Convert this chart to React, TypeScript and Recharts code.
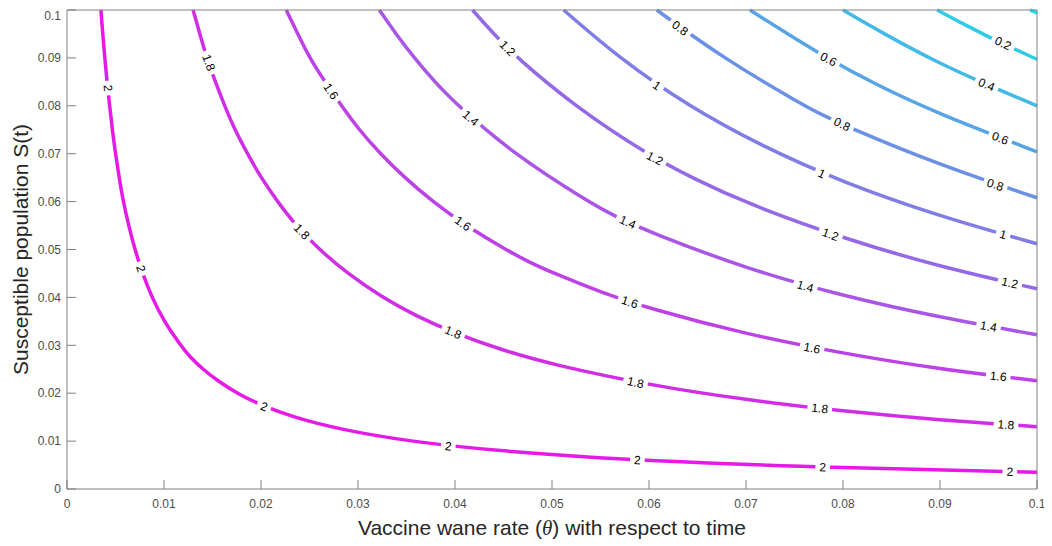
import { ComposedChart, Line, Scatter, XAxis, YAxis } from "recharts";

// contour levels, magenta (2) to cyan (0)
const levels = [2, 1.8, 1.6, 1.4, 1.2, 1, 0.8, 0.6, 0.4, 0.2, 0];

// points (theta, S)
const c20 = [
  { x: 0.0035, y: 0.1 }, { x: 0.00368, y: 0.095 }, { x: 0.0039, y: 0.09 }, { x: 0.00412, y: 0.085 },
  { x: 0.0044, y: 0.08 }, { x: 0.00467, y: 0.075 }, { x: 0.005, y: 0.07 }, { x: 0.00538, y: 0.065 },
  { x: 0.0058, y: 0.06 }, { x: 0.00636, y: 0.055 }, { x: 0.007, y: 0.05 }, { x: 0.00778, y: 0.045 },
  { x: 0.00875, y: 0.04 }, { x: 0.01, y: 0.035 }, { x: 0.0117, y: 0.03 }, { x: 0.0127, y: 0.0275 },
  { x: 0.014, y: 0.025 }, { x: 0.0156, y: 0.0225 }, { x: 0.0175, y: 0.02 }, { x: 0.02, y: 0.0175 },
  { x: 0.0233, y: 0.015 }, { x: 0.028, y: 0.0125 }, { x: 0.035, y: 0.01 }, { x: 0.045, y: 0.0078 },
  { x: 0.06, y: 0.0058 }, { x: 0.08, y: 0.0044 }, { x: 0.1, y: 0.0035 },
];
const c18 = [
  { x: 0.013, y: 0.1 }, { x: 0.0137, y: 0.095 }, { x: 0.0144, y: 0.09 }, { x: 0.0153, y: 0.085 },
  { x: 0.01625, y: 0.08 }, { x: 0.0173, y: 0.075 }, { x: 0.0186, y: 0.07 }, { x: 0.02, y: 0.065 },
  { x: 0.0217, y: 0.06 }, { x: 0.0236, y: 0.055 }, { x: 0.026, y: 0.05 }, { x: 0.0289, y: 0.045 },
  { x: 0.0325, y: 0.04 }, { x: 0.036, y: 0.0361 }, { x: 0.04, y: 0.0325 }, { x: 0.045, y: 0.0289 },
  { x: 0.05, y: 0.026 }, { x: 0.06, y: 0.0217 }, { x: 0.07, y: 0.0186 }, { x: 0.08, y: 0.01625 },
  { x: 0.09, y: 0.0144 }, { x: 0.1, y: 0.013 },
];
const c16 = [
  { x: 0.0226, y: 0.1 }, { x: 0.0238, y: 0.095 }, { x: 0.025, y: 0.09 }, { x: 0.0266, y: 0.085 },
  { x: 0.0283, y: 0.08 }, { x: 0.0301, y: 0.075 }, { x: 0.0323, y: 0.07 }, { x: 0.0348, y: 0.065 },
  { x: 0.0377, y: 0.06 }, { x: 0.0411, y: 0.055 }, { x: 0.0452, y: 0.05 }, { x: 0.0475, y: 0.0475 },
  { x: 0.05, y: 0.0452 }, { x: 0.055, y: 0.0411 }, { x: 0.06, y: 0.0377 }, { x: 0.07, y: 0.0323 },
  { x: 0.08, y: 0.0283 }, { x: 0.09, y: 0.025 }, { x: 0.1, y: 0.0226 },
];
const c14 = [
  { x: 0.0322, y: 0.1 }, { x: 0.0339, y: 0.095 }, { x: 0.0358, y: 0.09 }, { x: 0.0379, y: 0.085 },
  { x: 0.0403, y: 0.08 }, { x: 0.046, y: 0.07 }, { x: 0.0537, y: 0.06 }, { x: 0.0567, y: 0.0567 },
  { x: 0.06, y: 0.0537 }, { x: 0.07, y: 0.046 }, { x: 0.08, y: 0.0403 }, { x: 0.09, y: 0.0358 },
  { x: 0.1, y: 0.0322 },
];
const c12 = [
  { x: 0.0418, y: 0.1 }, { x: 0.044, y: 0.095 }, { x: 0.0464, y: 0.09 }, { x: 0.0523, y: 0.08 },
  { x: 0.0597, y: 0.07 }, { x: 0.0647, y: 0.0647 }, { x: 0.07, y: 0.0597 }, { x: 0.08, y: 0.0523 },
  { x: 0.09, y: 0.0464 }, { x: 0.1, y: 0.0418 },
];
const c10 = [
  { x: 0.0512, y: 0.1 }, { x: 0.0569, y: 0.09 }, { x: 0.064, y: 0.08 }, { x: 0.0716, y: 0.0716 },
  { x: 0.08, y: 0.064 }, { x: 0.09, y: 0.0569 }, { x: 0.1, y: 0.0512 },
];
const c08 = [
  { x: 0.0608, y: 0.1 }, { x: 0.0676, y: 0.09 }, { x: 0.076, y: 0.08 }, { x: 0.078, y: 0.078 },
  { x: 0.08, y: 0.076 }, { x: 0.09, y: 0.0676 }, { x: 0.1, y: 0.0608 },
];
const c06 = [
  { x: 0.0704, y: 0.1 }, { x: 0.0782, y: 0.09 }, { x: 0.0839, y: 0.0839 }, { x: 0.09, y: 0.0782 },
  { x: 0.1, y: 0.0704 },
];
const c04 = [
  { x: 0.08, y: 0.1 }, { x: 0.0845, y: 0.0947 }, { x: 0.0894, y: 0.0894 }, { x: 0.0947, y: 0.0845 },
  { x: 0.1, y: 0.08 },
];
const c02 = [
  { x: 0.0897, y: 0.1 }, { x: 0.0923, y: 0.0972 }, { x: 0.0947, y: 0.0947 }, { x: 0.0972, y: 0.0923 },
  { x: 0.1, y: 0.0897 },
];
const c00 = [{ x: 0.0993, y: 0.1 }, { x: 0.0997, y: 0.0997 }, { x: 0.1, y: 0.0993 }];

const curves = [c20, c18, c16, c14, c12, c10, c08, c06, c04, c02, c00];

// inline contour labels
const labels = [
  { level: 2, x: 0.0042, y: 0.0837 }, { level: 2, x: 0.0076, y: 0.046 }, { level: 2, x: 0.0203, y: 0.0172 },
  { level: 2, x: 0.0393, y: 0.0089 }, { level: 2, x: 0.0588, y: 0.006 }, { level: 2, x: 0.0779, y: 0.0045 },
  { level: 2, x: 0.0972, y: 0.0036 },
  { level: 1.8, x: 0.0146, y: 0.089 }, { level: 1.8, x: 0.0242, y: 0.0537 }, { level: 1.8, x: 0.0398, y: 0.0327 },
  { level: 1.8, x: 0.0586, y: 0.0222 }, { level: 1.8, x: 0.0776, y: 0.0168 }, { level: 1.8, x: 0.0968, y: 0.0134 },
  { level: 1.6, x: 0.0272, y: 0.083 }, { level: 1.6, x: 0.0408, y: 0.0554 }, { level: 1.6, x: 0.058, y: 0.039 },
  { level: 1.6, x: 0.0768, y: 0.0294 }, { level: 1.6, x: 0.096, y: 0.0235 },
  { level: 1.4, x: 0.0416, y: 0.0774 }, { level: 1.4, x: 0.0578, y: 0.0557 }, { level: 1.4, x: 0.0761, y: 0.0423 },
  { level: 1.4, x: 0.095, y: 0.0339 },
  { level: 1.2, x: 0.0454, y: 0.092 }, { level: 1.2, x: 0.0606, y: 0.069 }, { level: 1.2, x: 0.0787, y: 0.0531 },
  { level: 1.2, x: 0.0972, y: 0.043 },
  { level: 1, x: 0.0608, y: 0.0842 }, { level: 1, x: 0.0778, y: 0.0658 }, { level: 1, x: 0.0965, y: 0.0531 },
  { level: 0.8, x: 0.0632, y: 0.0962 }, { level: 0.8, x: 0.0799, y: 0.0761 }, { level: 0.8, x: 0.0957, y: 0.0635 },
  { level: 0.6, x: 0.0785, y: 0.0897 }, { level: 0.6, x: 0.0962, y: 0.0732 },
  { level: 0.4, x: 0.0948, y: 0.0844 },
  { level: 0.2, x: 0.0965, y: 0.093 },
];

const xTicks = [0, 0.01, 0.02, 0.03, 0.04, 0.05, 0.06, 0.07, 0.08, 0.09, 0.1];
const yTicks = [0, 0.01, 0.02, 0.03, 0.04, 0.05, 0.06, 0.07, 0.08, 0.09, 0.1];

const W = 1044;
const H = 538;
const PX_X = 970 / 0.1; // plot pixels per data unit
const PX_Y = 479 / 0.1;
const font = "'Liberation Sans', Arial, sans-serif";
const axisColor = "#808080";
const tickStyle = { fill: "#4d4d4d", fontSize: 12, fontFamily: font };
const LABEL_FS = 12;

// cool colormap, t=0 cyan .. t=1 magenta
const levelColor = (lv: number) => {
  const t = lv / 2;
  const r = Math.round(25 + 205 * t);
  const g = Math.round(225 - 200 * t);
  return `rgb(${r},${g},230)`;
};

const textWidth = (s: string, fs: number) =>
  s.split("").reduce((w, ch) => w + (ch === "." ? 0.278 : 0.556) * fs, 0);

function ContourLabel(props: any) {
  const { cx, cy, payload } = props;
  const pts = curves[levels.indexOf(payload.level)];
  let i = 0;
  while (i < pts.length - 2 && pts[i + 1].x < payload.x) i++;
  const a = pts[i];
  const b = pts[i + 1];
  const angle = (Math.atan2(-(b.y - a.y) * PX_Y, (b.x - a.x) * PX_X) * 180) / Math.PI;
  const s = String(payload.level);
  const w = textWidth(s, LABEL_FS) + 8;
  return (
    <g transform={`translate(${cx},${cy}) rotate(${angle})`}>
      <rect x={-w / 2} y={-5} width={w} height={10} fill="#fff" />
      <text textAnchor="middle" dominantBaseline="central" fontSize={LABEL_FS} fontFamily={font} fill="#000">
        {s}
      </text>
    </g>
  );
}

const YLabel = (props: any) => {
  const vb = props.viewBox;
  return (
    <text
      transform={`translate(${vb.x + 20},${vb.y + vb.height / 2}) rotate(-90)`}
      textAnchor="middle"
      fontSize={21}
      fontFamily={font}
      fill="#262626"
    >
      Susceptible population S(t)
    </text>
  );
};

const XLabel = (props: any) => {
  const vb = props.viewBox;
  return (
    <text x={vb.x + vb.width / 2} y={vb.y + 46} textAnchor="middle" fontSize={21} fontFamily={font} fill="#262626">
      Vaccine wane rate (
      <tspan fontStyle="italic" fontFamily="'Liberation Serif', serif">θ</tspan>) with respect to time
    </text>
  );
};

export default function App() {
  return (
    <div style={{ width: W, height: H, background: "#fff" }}>
      <ComposedChart width={W} height={H} margin={{ top: 1, right: 14, bottom: 0, left: 0 }}>
        <XAxis
          type="number"
          dataKey="x"
          domain={[0, 0.1]}
          ticks={xTicks}
          tickSize={-9}
          tickMargin={19}
          tick={tickStyle}
          height={57}
          stroke={axisColor}
          label={XLabel}
        />
        <XAxis
          xAxisId="top"
          orientation="top"
          type="number"
          domain={[0, 0.1]}
          ticks={xTicks}
          tickSize={-9}
          tick={false}
          height={1}
          stroke={axisColor}
        />
        <YAxis
          type="number"
          dataKey="y"
          domain={[0, 0.1]}
          ticks={yTicks}
          tickSize={-9}
          tickMargin={15}
          tick={tickStyle}
          width={59}
          stroke={axisColor}
          label={YLabel}
        />
        <YAxis
          yAxisId="right"
          orientation="right"
          type="number"
          domain={[0, 0.1]}
          ticks={yTicks}
          tickSize={-9}
          tick={false}
          width={1}
          stroke={axisColor}
        />
        {curves.map((pts, k) => (
          <Line
            key={k}
            data={pts}
            dataKey="y"
            type="basis"
            stroke={levelColor(levels[k])}
            strokeWidth={3.5}
            dot={false}
            activeDot={false}
            isAnimationActive={false}
          />
        ))}
        <Scatter data={labels} dataKey="y" shape={ContourLabel} isAnimationActive={false} />
      </ComposedChart>
    </div>
  );
}
